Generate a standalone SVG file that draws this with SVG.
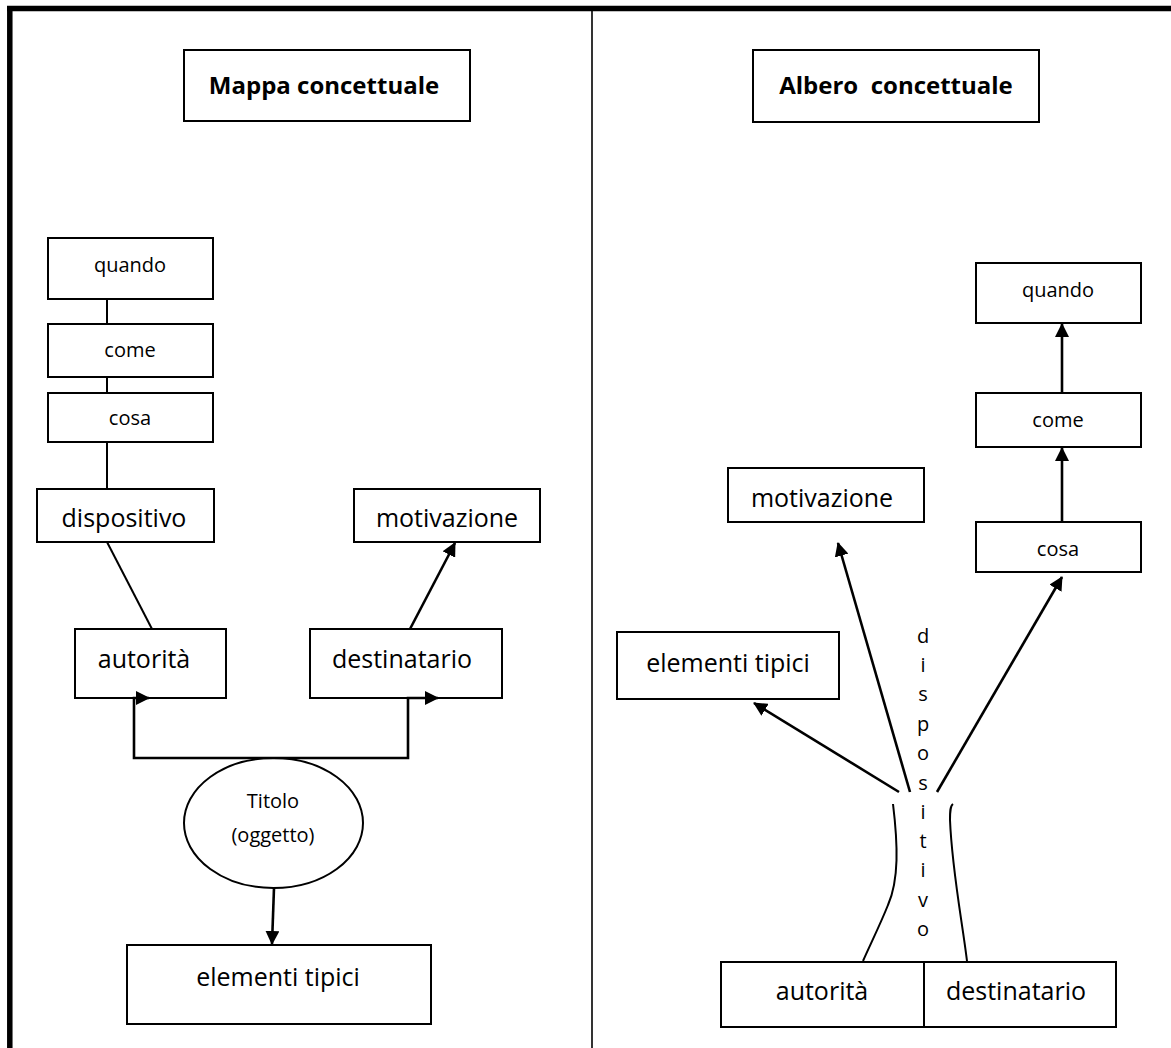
<svg xmlns="http://www.w3.org/2000/svg" width="1171" height="1048" viewBox="0 0 1171 1048">
  <style>
    .box { fill: #fff; stroke: #000; stroke-width: 2; }
    .t { font-family: "Open Sans", "Noto Sans", sans-serif; fill: #000; text-anchor: middle; }
    .big { font-size: 25px; }
    .small { font-size: 20px; }
    .title { font-size: 24px; font-weight: bold; }
    .vert { font-size: 20px; }
    .line { fill: none; stroke: #000; stroke-width: 2; }
    .arrow { fill: none; stroke: #000; stroke-width: 2.6; marker-end: url(#head); }
    .frame { stroke: #000; fill: none; }
  </style>
  <defs>
    <marker id="head" viewBox="0 0 14 14" refX="13" refY="7" markerWidth="14" markerHeight="14" markerUnits="userSpaceOnUse" orient="auto">
      <path d="M0,0 L14,7 L0,14 z" fill="#000"/>
    </marker>
  </defs>

  <rect width="1171" height="1048" fill="#fff"/>

  <!-- page frame and column divider -->
  <g id="frame">
    <line class="frame" x1="7" y1="8.5" x2="1171" y2="8.5" stroke-width="5.5"/>
    <line class="frame" x1="9.8" y1="6" x2="9.8" y2="1048" stroke-width="5.5"/>
    <line class="frame" x1="592" y1="11" x2="592" y2="1048" stroke-width="1.6"/>
  </g>

  <!-- left column: Mappa concettuale -->
  <g id="map-title">
    <rect class="box" x="184" y="50" width="286" height="71"/>
    <text class="t title" x="324" y="94">Mappa concettuale</text>
  </g>
  <g id="map-quando">
    <rect class="box" x="48" y="238" width="165" height="61"/>
    <text class="t small" x="130" y="272">quando</text>
  </g>
  <g id="map-come">
    <rect class="box" x="48" y="324" width="165" height="53"/>
    <text class="t small" x="130" y="357">come</text>
  </g>
  <g id="map-cosa">
    <rect class="box" x="48" y="393" width="165" height="49"/>
    <text class="t small" x="130" y="425">cosa</text>
  </g>
  <g id="map-dispositivo">
    <rect class="box" x="37" y="489" width="177" height="53"/>
    <text class="t big" x="124" y="527">dispositivo</text>
  </g>
  <g id="map-motivazione">
    <rect class="box" x="354" y="489" width="186" height="53"/>
    <text class="t big" x="447" y="527">motivazione</text>
  </g>
  <g id="map-autorita">
    <rect class="box" x="75" y="629" width="151" height="69"/>
    <text class="t big" x="144" y="668">autorità</text>
  </g>
  <g id="map-destinatario">
    <rect class="box" x="310" y="629" width="192" height="69"/>
    <text class="t big" x="402" y="668">destinatario</text>
  </g>
  <g id="map-titolo">
    <ellipse class="box" cx="273.5" cy="823" rx="89.5" ry="65"/>
    <text class="t small" x="273" y="808">Titolo</text>
    <text class="t small" x="273" y="842">(oggetto)</text>
  </g>
  <g id="map-elementi">
    <rect class="box" x="127" y="945" width="304" height="79"/>
    <text class="t big" x="278" y="986">elementi tipici</text>
  </g>

  <!-- right column: Albero concettuale -->
  <g id="tree-title">
    <rect class="box" x="753" y="50" width="286" height="72"/>
    <text class="t title" x="896" y="94" xml:space="preserve">Albero  concettuale</text>
  </g>
  <g id="tree-quando">
    <rect class="box" x="976" y="263" width="165" height="60"/>
    <text class="t small" x="1058" y="297">quando</text>
  </g>
  <g id="tree-come">
    <rect class="box" x="976" y="393" width="165" height="54"/>
    <text class="t small" x="1058" y="427">come</text>
  </g>
  <g id="tree-cosa">
    <rect class="box" x="976" y="522" width="165" height="50"/>
    <text class="t small" x="1058" y="556">cosa</text>
  </g>
  <g id="tree-motivazione">
    <rect class="box" x="728" y="468" width="196" height="54"/>
    <text class="t big" x="822" y="507">motivazione</text>
  </g>
  <g id="tree-elementi">
    <rect class="box" x="617" y="632" width="222" height="67"/>
    <text class="t big" x="728" y="672">elementi tipici</text>
  </g>
  <g id="tree-dispositivo">
    <text class="t vert" x="923" y="643">d</text>
    <text class="t vert" x="923" y="672">i</text>
    <text class="t vert" x="923" y="701">s</text>
    <text class="t vert" x="923" y="731">p</text>
    <text class="t vert" x="923" y="760">o</text>
    <text class="t vert" x="923" y="790">s</text>
    <text class="t vert" x="923" y="819">i</text>
    <text class="t vert" x="923" y="848">t</text>
    <text class="t vert" x="923" y="877">i</text>
    <text class="t vert" x="923" y="907">v</text>
    <text class="t vert" x="923" y="936">o</text>
  </g>
  <g id="tree-autorita">
    <rect class="box" x="721" y="962" width="203" height="65"/>
    <text class="t big" x="822" y="1000">autorità</text>
  </g>
  <g id="tree-destinatario">
    <rect class="box" x="924" y="962" width="192" height="65"/>
    <text class="t big" x="1016" y="1000">destinatario</text>
  </g>

  <!-- connectors, drawn above the boxes so the arrowheads stay visible -->
  <g id="connectors">
    <!-- left: concept map -->
    <line class="line" x1="107" y1="299" x2="107" y2="324"/>
    <line class="line" x1="107" y1="377" x2="107" y2="393"/>
    <line class="line" x1="107" y1="442" x2="107" y2="489"/>
    <line class="line" x1="107" y1="542" x2="152" y2="629"/>
    <line class="arrow" x1="410" y1="629" x2="455" y2="543"/>
    <path class="arrow" d="M273,758 H134 V698 H149"/>
    <path class="arrow" d="M273,758 H408 V698 H438"/>
    <line class="arrow" x1="274" y1="888" x2="272" y2="944"/>
    <!-- right: concept tree -->
    <line class="arrow" x1="1062" y1="393" x2="1062" y2="324"/>
    <line class="arrow" x1="1062" y1="521" x2="1062" y2="448"/>
    <line class="arrow" x1="937" y1="792" x2="1062" y2="577"/>
    <line class="arrow" x1="910" y1="792" x2="838" y2="543"/>
    <line class="arrow" x1="899" y1="792" x2="754" y2="703"/>
    <!-- trunk of the tree -->
    <path class="line" d="M893,804 C898,845 899,880 888,905 C880,925 870,945 863,961"/>
    <path class="line" d="M953,804 C950,806 950,812 950,820 C952,870 962,920 967,961"/>
  </g>
</svg>
